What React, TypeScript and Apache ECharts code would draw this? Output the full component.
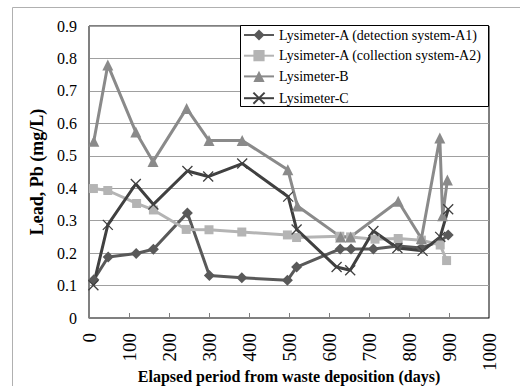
import React, { useEffect, useRef } from "react";
import * as echarts from "echarts";

// Lysimeter-A (detection system-A1)
const a1Days = [12, 48, 118, 161, 246, 301, 382, 496, 519, 628, 655, 711, 773, 831, 878, 898];
const a1Pb = [0.118, 0.188, 0.199, 0.212, 0.324, 0.131, 0.124, 0.116, 0.157, 0.213, 0.213, 0.213, 0.222, 0.216, 0.237, 0.256];

// Lysimeter-A (collection system-A2)
const a2Days = [11, 47, 119, 161, 243, 300, 382, 496, 519, 627, 654, 715, 773, 831, 878, 894];
const a2Pb = [0.399, 0.393, 0.353, 0.333, 0.273, 0.272, 0.265, 0.256, 0.248, 0.252, 0.25, 0.243, 0.245, 0.24, 0.225, 0.177];

// Lysimeter-B
const bDays = [12, 47, 117, 160, 244, 300, 383, 497, 521, 629, 654, 773, 831, 877, 884, 896];
const bPb = [0.545, 0.78, 0.573, 0.482, 0.646, 0.547, 0.547, 0.457, 0.345, 0.25, 0.25, 0.36, 0.245, 0.555, 0.315, 0.425];

// Lysimeter-C
const cDays = [11, 47, 117, 161, 246, 298, 383, 498, 519, 619, 653, 711, 771, 834, 878, 898];
const cPb = [0.101, 0.287, 0.413, 0.35, 0.453, 0.436, 0.476, 0.374, 0.273, 0.157, 0.147, 0.268, 0.216, 0.207, 0.25, 0.335];

const seriesNames = [
  "Lysimeter-A (detection system-A1)",
  "Lysimeter-A (collection system-A2)",
  "Lysimeter-B",
  "Lysimeter-C",
];

const xTicks = [0, 100, 200, 300, 400, 500, 600, 700, 800, 900, 1000];
const yTicks = [0, 0.1, 0.2, 0.3, 0.4, 0.5, 0.6, 0.7, 0.8, 0.9];

const FONT = "Liberation Serif";

const zip = (xs: number[], ys: number[]) => xs.map((x, i) => [x, ys[i]]);

export default function App() {
  const ref = useRef<HTMLDivElement>(null);
  useEffect(() => {
    document.body.style.margin = "0";
    if (!ref.current) return;
    const chart = echarts.init(ref.current, undefined, { renderer: "svg" });
    const mk = (
      name: string,
      data: number[][],
      color: string,
      symbol: string,
      symbolSize: number,
      extra: any = {}
    ) => ({
      name,
      type: "line",
      data,
      symbol,
      symbolSize,
      showSymbol: true,
      lineStyle: { color, width: 3 },
      itemStyle: { color, borderColor: color, borderWidth: 0, ...extra },
    });
    chart.setOption({
      animation: false,
      backgroundColor: "#fff",
      textStyle: { fontFamily: FONT },
      grid: {
        left: 89,
        right: 31,
        top: 26,
        bottom: 68,
        outerBoundsMode: "none",
        containLabel: false,
        show: true,
        borderColor: "#000",
        borderWidth: 1,
        backgroundColor: "transparent",
      },
      graphic: [
        {
          type: "rect",
          z: 0,
          shape: { x: 12.5, y: 7.5, width: 540, height: 420 },
          style: { fill: "none", stroke: "#b0b0b0", lineWidth: 1 },
        },
        {
          type: "rect",
          z: 10,
          shape: { x: 240.5, y: 25.5, width: 248, height: 81 },
          style: { fill: "#fff", stroke: "#000", lineWidth: 1 },
        },
      ],
      legend: {
        z: 20,
        orient: "vertical",
        left: 243,
        top: 28,
        padding: 0,
        itemWidth: 30,
        itemHeight: 14,
        itemGap: 6.7,
        data: seriesNames,
        textStyle: { fontFamily: FONT, fontSize: 14, color: "#000", lineHeight: 14 },
      },
      xAxis: {
        type: "value",
        min: 0,
        max: 1000,
        interval: 100,
        name: "Elapsed period from waste deposition (days)",
        nameLocation: "middle",
        nameGap: 50,
        nameMoveOverlap: false,
        nameTextStyle: { fontFamily: FONT, fontSize: 16, fontWeight: "bold", color: "#000" },
        axisLine: { show: true, lineStyle: { color: "#808080", width: 1 } },
        axisTick: { show: true, inside: true, length: 5, lineStyle: { color: "#808080" } },
        axisLabel: {
          rotate: 90,
          margin: 15,
          fontFamily: FONT,
          fontSize: 19,
          color: "#000",
          formatter: (v: number) => (xTicks.includes(v) ? String(v) : ""),
        },
        splitLine: { show: false },
      },
      yAxis: {
        type: "value",
        min: 0,
        max: 0.9,
        interval: 0.1,
        name: "Lead, Pb (mg/L)",
        nameLocation: "middle",
        nameGap: 43,
        nameMoveOverlap: false,
        nameTextStyle: { fontFamily: FONT, fontSize: 18, fontWeight: "bold", color: "#000" },
        axisLine: { show: true, lineStyle: { color: "#808080", width: 1 } },
        axisTick: { show: false },
        axisLabel: {
          margin: 12,
          fontFamily: FONT,
          fontSize: 16,
          color: "#000",
          formatter: (v: number) => {
            const t = yTicks.find((y) => Math.abs(y - v) < 1e-6);
            return t === undefined ? "" : String(Math.round(t * 10) / 10);
          },
        },
        splitLine: { show: true, lineStyle: { color: "#a0a0a0", width: 1 } },
      },
      series: [
        mk(seriesNames[0], zip(a1Days, a1Pb), "#595959", "diamond", 11),
        mk(seriesNames[1], zip(a2Days, a2Pb), "#b4b4b4", "rect", 9),
        mk(seriesNames[2], zip(bDays, bPb), "#8a8a8a", "triangle", 11),
        mk(seriesNames[3], zip(cDays, cPb), "#404040", "path://M0,0L10,10M10,0L0,10", 10, {
          color: "none",
          borderColor: "#404040",
          borderWidth: 1.3,
        }),
      ],
    });
    return () => chart.dispose();
  }, []);
  return <div ref={ref} style={{ width: 520, height: 386 }} />;
}
